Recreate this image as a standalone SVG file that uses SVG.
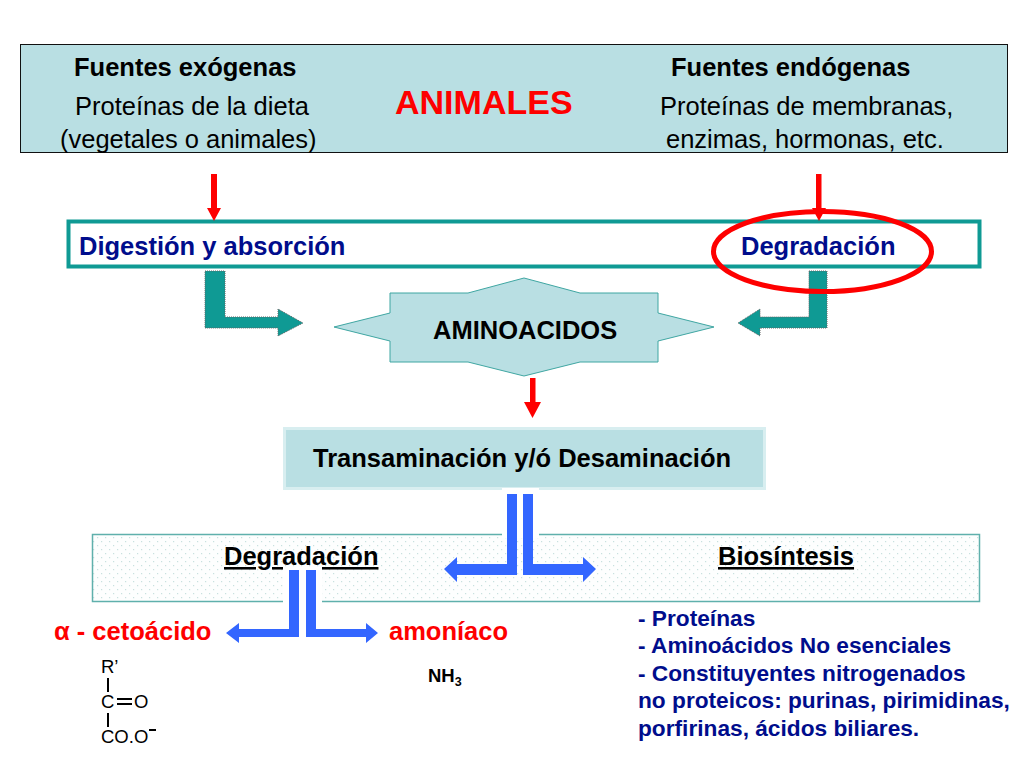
<svg xmlns="http://www.w3.org/2000/svg" width="1024" height="768" viewBox="0 0 1024 768">
<style>
text{font-family:"Liberation Sans",Arial,sans-serif;font-size:25.5px;fill:#000}
.b{font-weight:bold}
.n{fill:#000d8c}
.r{fill:#fe0000}
.l{font-size:22.7px;font-weight:bold;fill:#000d8c}
.s{font-size:18.5px}
.red{fill:#fe0000}
.teal{fill:#0f9a94;stroke:#666;stroke-width:1;stroke-dasharray:1 1}
.blue{fill:#3366ff}
.w{fill:#fff}
.u{text-decoration:underline}
</style>
<defs>
<pattern id="dots" width="8" height="8" patternUnits="userSpaceOnUse">
<rect width="8" height="8" fill="#fdfefe"/>
<rect x="1" y="1" width="1.200" height="1.200" fill="#c8e0df"/>
<rect x="5" y="5" width="1.200" height="1.200" fill="#c8e0df"/>
</pattern>
</defs>
<rect width="1024" height="768" fill="#fff"/>
<g id="animales">
<rect x="20.500" y="44.500" width="987" height="108" fill="#b9dfe3" stroke="#111" stroke-width="1"/>
<text class="b" x="74" y="76">Fuentes exógenas</text>
<text class="b" x="671" y="76">Fuentes endógenas</text>
<text x="75" y="115">Proteínas de la dieta</text>
<text x="660" y="115">Proteínas de membranas,</text>
<text x="60" y="148">(vegetales o animales)</text>
<text x="666" y="148">enzimas, hormonas, etc.</text>
<text class="b r" x="395" y="114" style="font-size:34px">ANIMALES</text>
</g>
<g id="digestion">
<rect x="68.500" y="221.500" width="911" height="45" fill="#fff" stroke="#0f9a94" stroke-width="4"/>
<text class="b n" x="79" y="255">Digestión y absorción</text>
<text class="b n" x="741" y="255">Degradación</text>
</g>
<g id="aminoacidos">
<polygon points="334,327 390,313 390,293 468,293 524,278 580,293 658,293 658,313 714,327 658,341 658,362 580,362 524,376 468,362 390,362 390,341" fill="#b9dfe3" stroke="#3fa6a2" stroke-width="1"/>
<text class="b" x="433" y="339">AMINOACIDOS</text>
</g>
<g id="transaminacion">
<rect x="284.500" y="428.500" width="480" height="60" fill="#b9dfe3" stroke="#d8eef0" stroke-width="3"/>
<text class="b" x="313" y="467">Transaminación y/ó Desaminación</text>
</g>
<g id="destinos">
<rect x="92.500" y="534.500" width="887" height="67" fill="url(#dots)" stroke="#5fb0ac" stroke-width="1.500"/>
<text class="b u" x="224" y="565">Degradación</text>
<text class="b u" x="718" y="565">Biosíntesis</text>
<rect class="w" x="502" y="488" width="37" height="50"/>
<rect class="w" x="283" y="567" width="39" height="37"/>
</g>
<g id="connectors">
<path class="red" d="M211 174h6v34h4l-7 13-7-13h4z"/>
<path class="red" d="M816 174h5.500v34h4.500l-7 13-7-13h4z"/>
<path class="red" d="M530 378h5.500v24h5.500l-8.500 16-8.500-16h6z"/>
<path class="teal" d="M205 271h20v46h53v-8l25 14-25 13v-8h-73z"/>
<path class="teal" d="M809 271h18v57h-67v8l-22-13 22-14v8h49z"/>
<ellipse cx="822.500" cy="251.500" rx="109" ry="40" fill="none" stroke="#fe0000" stroke-width="5"/>
<path class="blue" d="M507 494h10v81h-60v7l-13-13 13-12v7h50z"/>
<path class="blue" d="M523 494h10v70h50v-7l13 12-13 13v-7h-60z"/>
<path class="blue" d="M289 570h10v67h-60v6l-13-10 13-10v6h50z"/>
<path class="blue" d="M306 570h10v59h50v-6l12 10-12 10v-6h-60z"/>
</g>
<g id="productos">
<text class="b r" x="54" y="640">α - cetoácido</text>
<text class="b r" x="389" y="640">amoníaco</text>
<text class="b" x="428" y="682" style="font-size:18.500px">NH<tspan dy="4" style="font-size:12.500px">3</tspan></text>
</g>
<g id="estructura">
<text class="s" x="101" y="673">R’</text>
<rect x="107" y="678" width="2" height="14"/>
<text class="s" x="101" y="708">C</text>
<rect x="117" y="698" width="15" height="2"/>
<rect x="117" y="703" width="15" height="2"/>
<text class="s" x="134" y="708">O</text>
<rect x="107" y="713" width="2" height="14"/>
<text class="s" x="101" y="743">CO.O</text>
<rect x="149" y="729" width="7" height="2"/>
</g>
<g id="lista">
<text class="l" x="638" y="625.500">- Proteínas</text>
<text class="l" x="638" y="653">- Aminoácidos No esenciales</text>
<text class="l" x="638" y="680.500">- Constituyentes nitrogenados</text>
<text class="l" x="638" y="708">no proteicos: purinas, pirimidinas,</text>
<text class="l" x="638" y="736">porfirinas, ácidos biliares.</text>
</g>
</svg>
